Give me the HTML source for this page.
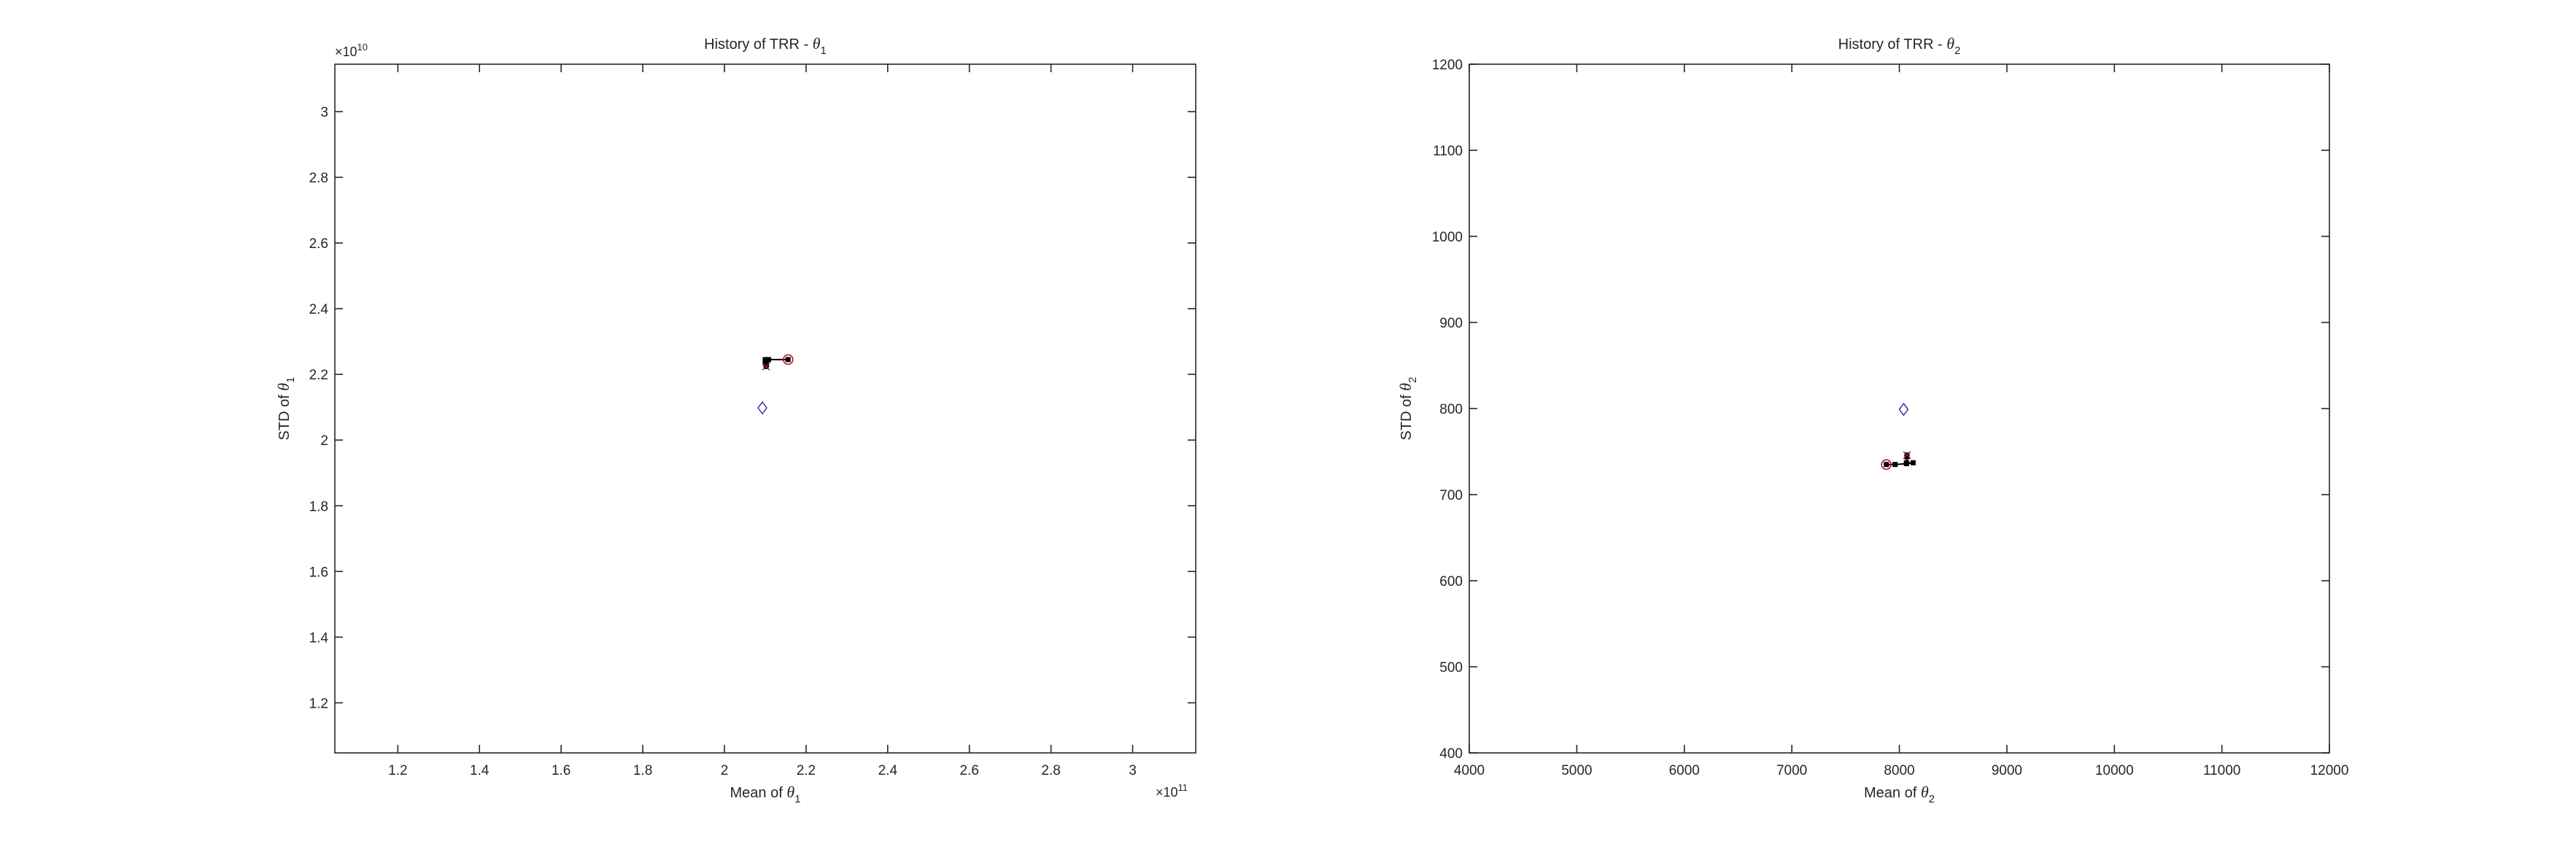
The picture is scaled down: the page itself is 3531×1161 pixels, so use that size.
<!DOCTYPE html>
<html><head><meta charset="utf-8">
<style>
html,body{margin:0;padding:0;background:#fff;}
svg{display:block;font-family:"Liberation Sans",sans-serif;}
text{fill:#262626;}
</style></head>
<body>
<svg id="fig" width="3531" height="1161" viewBox="0 0 3531 1161" xmlns="http://www.w3.org/2000/svg"></svg>
<script>
// ---- Chart 1 data (theta_1) ----
const xTicks1 = [1.2,1.4,1.6,1.8,2,2.2,2.4,2.6,2.8,3];
const yTicks1 = [1.2,1.4,1.6,1.8,2,2.2,2.4,2.6,2.8,3];
const pathMean1 = [2.156,2.108,2.100,2.100,2.103,2.102];
const pathStd1  = [2.245,2.245,2.245,2.235,2.230,2.224];
const trueMean1 = [2.093];
const trueStd1  = [2.098];
// ---- Chart 2 data (theta_2) ----
const xTicks2 = [4000,5000,6000,7000,8000,9000,10000,11000,12000];
const yTicks2 = [400,500,600,700,800,900,1000,1100,1200];
const pathMean2 = [7879,7960,8066,8128,8066,8071,8071];
const pathStd2  = [735,735,736,737,737,744,746];
const trueMean2 = [8040];
const trueStd2  = [799];

const NS="http://www.w3.org/2000/svg";
const svg=document.getElementById('fig');
function mk(tag,attrs,parent){const e=document.createElementNS(NS,tag);for(const k in attrs)e.setAttribute(k,attrs[k]);(parent||svg).appendChild(e);return e;}

function chart(cfg){
  const g=mk('g',{});
  
  
  const L=cfg.L,R=cfg.R,T=cfg.T,B=cfg.B;
  const sx=v=>L+(v-cfg.xmin)/(cfg.xmax-cfg.xmin)*(R-L);
  const sy=v=>B-(v-cfg.ymin)/(cfg.ymax-cfg.ymin)*(B-T);
  const box=mk('rect',{x:L,y:T,width:R-L,height:B-T,fill:'#fff',stroke:'#262626','stroke-width':1.6},g);
  
  
  cfg.xt.forEach(v=>{
    const x=sx(v);
    mk('line',{x1:x,y1:B,x2:x,y2:B-11,stroke:'#262626','stroke-width':1.6},g);
    mk('line',{x1:x,y1:T,x2:x,y2:T+11,stroke:'#262626','stroke-width':1.6},g);
    const t=mk('text',{x:x,y:B+30,'font-size':19,'text-anchor':'middle'},g);
    t.textContent=String(v);
    
    
  });
  cfg.yt.forEach(v=>{
    const y=sy(v);
    mk('line',{x1:L,y1:y,x2:L+11,y2:y,stroke:'#262626','stroke-width':1.6},g);
    mk('line',{x1:R,y1:y,x2:R-11,y2:y,stroke:'#262626','stroke-width':1.6},g);
    const t=mk('text',{x:L-9,y:y+7,'font-size':19,'text-anchor':'end'},g);
    t.textContent=String(v);
    
    
  });
  // title
  const ti=mk('text',{x:(L+R)/2,y:67,'font-size':20,'text-anchor':'middle'},g);
  ti.innerHTML='History of TRR - <tspan font-family="Liberation Serif" font-style="italic" font-size="22">θ</tspan><tspan font-size="15" dy="7">'+cfg.sub+'</tspan>';
  
  
  const xl=mk('text',{x:(L+R)/2,y:1093,'font-size':20,'text-anchor':'middle'},g);
  xl.innerHTML='Mean of <tspan font-family="Liberation Serif" font-style="italic" font-size="22">θ</tspan><tspan font-size="15" dy="7">'+cfg.sub+'</tspan>';
  
  
  const yl=mk('text',{x:0,y:0,'font-size':20,'text-anchor':'middle',transform:'translate('+cfg.ylx+','+((T+B)/2)+') rotate(-90)'},g);
  yl.innerHTML='STD of <tspan font-family="Liberation Serif" font-style="italic" font-size="22">θ</tspan><tspan font-size="15" dy="7">'+cfg.sub+'</tspan>';
  
  
  if(cfg.ymult){
    const m=mk('text',{x:L,y:T-11,'font-size':18},g);
    m.innerHTML='×10<tspan font-size="13" dy="-8">'+cfg.ymult+'</tspan>';
    
    
  }
  if(cfg.xmult){
    const m=mk('text',{x:R-55,y:1092,'font-size':18},g);
    m.innerHTML='×10<tspan font-size="13" dy="-8">'+cfg.xmult+'</tspan>';
    
    
  }
  // path
  const pts=cfg.pm.map((m,i)=>sx(m)+','+sy(cfg.ps[i])).join(' ');
  const pl=mk('polyline',{points:pts,fill:'none',stroke:'#000','stroke-width':2},g);
  
  
  cfg.pm.forEach((m,i)=>{
    const s=mk('rect',{x:sx(m)-3.5,y:sy(cfg.ps[i])-3.5,width:7,height:7,fill:'#000'},g);
    
    
  });
  const c=mk('circle',{cx:sx(cfg.pm[0]),cy:sy(cfg.ps[0]),r:6.5,fill:'none',stroke:'#c00020','stroke-width':1.5},g);
  
  
  const n=cfg.pm.length-1, ex=sx(cfg.pm[n]), ey=sy(cfg.ps[n]);
  const xm=mk('path',{d:`M${ex-5},${ey-5}L${ex+5},${ey+5}M${ex-5},${ey+5}L${ex+5},${ey-5}`,stroke:'#a02030','stroke-width':1.3},g);
  
  
  cfg.tm.forEach((m,i)=>{
    const dx=sx(m),dy=sy(cfg.ts[i]);
    const d=mk('path',{d:`M${dx},${dy-8}L${dx+6},${dy}L${dx},${dy+8}L${dx-6},${dy}Z`,fill:'none',stroke:'#1a1aa0','stroke-width':1.3},g);
    
    
  });
}
chart({name:'theta1-chart',L:459,R:1639,T:88,B:1032,xmin:1.0457,xmax:3.1545,ymin:1.0476,ymax:3.1444,
  xt:xTicks1,yt:yTicks1,sub:'1',ylx:396,ymult:'10',xmult:'11',
  pm:pathMean1,ps:pathStd1,tm:trueMean1,ts:trueStd1});
chart({name:'theta2-chart',L:2014,R:3193,T:88,B:1032,xmin:4000,xmax:12000,ymin:400,ymax:1200,
  xt:xTicks2,yt:yTicks2,sub:'2',ylx:1934,
  pm:pathMean2,ps:pathStd2,tm:trueMean2,ts:trueStd2});
</script>
</body></html>
